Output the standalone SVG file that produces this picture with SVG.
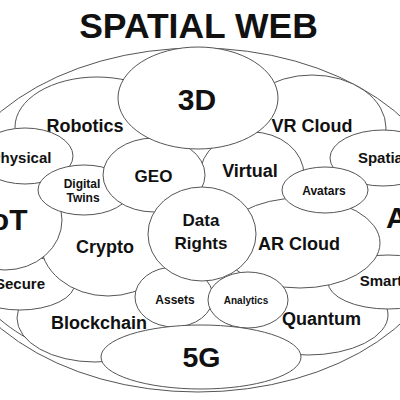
<svg xmlns="http://www.w3.org/2000/svg" width="400" height="400" viewBox="0 0 400 400">
<style>
ellipse{fill:#fff;stroke:#555;stroke-width:1}
.c{fill:none;stroke:#555;stroke-width:1}
text{font-family:"Liberation Sans",Arial,sans-serif;font-weight:bold;fill:#111;text-anchor:middle}
.s12{font-size:12px}.s10{font-size:10px}.s15{font-size:15px}.s17{font-size:17px}.s18{font-size:18px}.s30{font-size:30px}
</style>
<rect width="400" height="400" fill="#fff"/>
<text x="198.5" y="38" style="font-size:35.5px">SPATIAL WEB</text>
<g id="outer"><ellipse cx="198" cy="220" rx="254" ry="172"/></g>
<g id="connectors"><path class="c" d="M-5,315 C20,338 55,356 100,361"/></g>
<g id="robotics"><ellipse cx="97" cy="127" rx="82" ry="50"/><text class="s18" x="85" y="132">Robotics</text></g>
<g id="vrcloud"><ellipse cx="312" cy="128" rx="74" ry="53"/><text class="s18" x="312" y="132">VR Cloud</text></g>
<g id="virtual"><ellipse cx="252" cy="175" rx="52" ry="43"/><text class="s18" x="250" y="177">Virtual</text></g>
<g id="blockchain"><ellipse cx="95" cy="318" rx="78" ry="44"/><text class="s18" x="99" y="329">Blockchain</text></g>
<g id="quantum"><ellipse cx="308" cy="315" rx="80" ry="40"/><text class="s18" x="321.5" y="325">Quantum</text></g>
<g id="smart"><ellipse cx="388" cy="282" rx="60" ry="27"/><text class="s15" x="381" y="286">Smart</text></g>
<g id="arcloud"><ellipse cx="300" cy="243" rx="80" ry="45"/><text class="s18" x="299" y="250">AR Cloud</text></g>
<g id="ai"><text class="s30" x="386" y="228" style="text-anchor:start">AI</text></g>
<g id="secure"><ellipse cx="20" cy="283" rx="55" ry="27"/><text class="s15" x="20" y="289">Secure</text></g>
<g id="crypto"><ellipse cx="108" cy="240" rx="68" ry="56"/><text class="s18" x="105" y="253">Crypto</text></g>
<g id="iot"><ellipse cx="5" cy="220" rx="57" ry="50"/><text class="s30" x="-17.5" y="230" style="text-anchor:start">IoT</text></g>
<g id="physical"><ellipse cx="25" cy="156" rx="48" ry="28"/><text class="s15" x="21" y="163">Physical</text></g>
<g id="digitaltwins"><ellipse cx="84" cy="190" rx="46" ry="25"/><text class="s12" x="82" y="188">Digital</text><text class="s12" x="83" y="202">Twins</text></g>
<g id="geo"><ellipse cx="154" cy="175" rx="51" ry="37"/><text class="s17" x="153.5" y="182">GEO</text></g>
<g id="spatial"><ellipse cx="383" cy="158" rx="53" ry="28"/><text class="s15" x="382.5" y="163">Spatial</text></g>
<g id="avatars"><ellipse cx="325" cy="190" rx="43" ry="23"/><text class="s12" x="324" y="195">Avatars</text></g>
<g id="n3d"><ellipse cx="198" cy="98" rx="80" ry="51"/><text class="s30" x="197" y="110">3D</text></g>
<g id="assets"><ellipse cx="174" cy="297" rx="39" ry="30"/><text class="s12" x="175" y="304">Assets</text></g>
<g id="analytics"><ellipse cx="248" cy="300" rx="40" ry="28"/><text class="s10" x="246" y="304">Analytics</text></g>
<g id="datarights"><ellipse cx="202" cy="234" rx="54" ry="47"/><text class="s17" x="201" y="226">Data</text><text class="s17" x="201" y="249">Rights</text></g>
<g id="n5g"><ellipse cx="201" cy="357" rx="100" ry="32"/><text x="201.5" y="367" style="font-size:28.5px">5G</text></g>
</svg>
